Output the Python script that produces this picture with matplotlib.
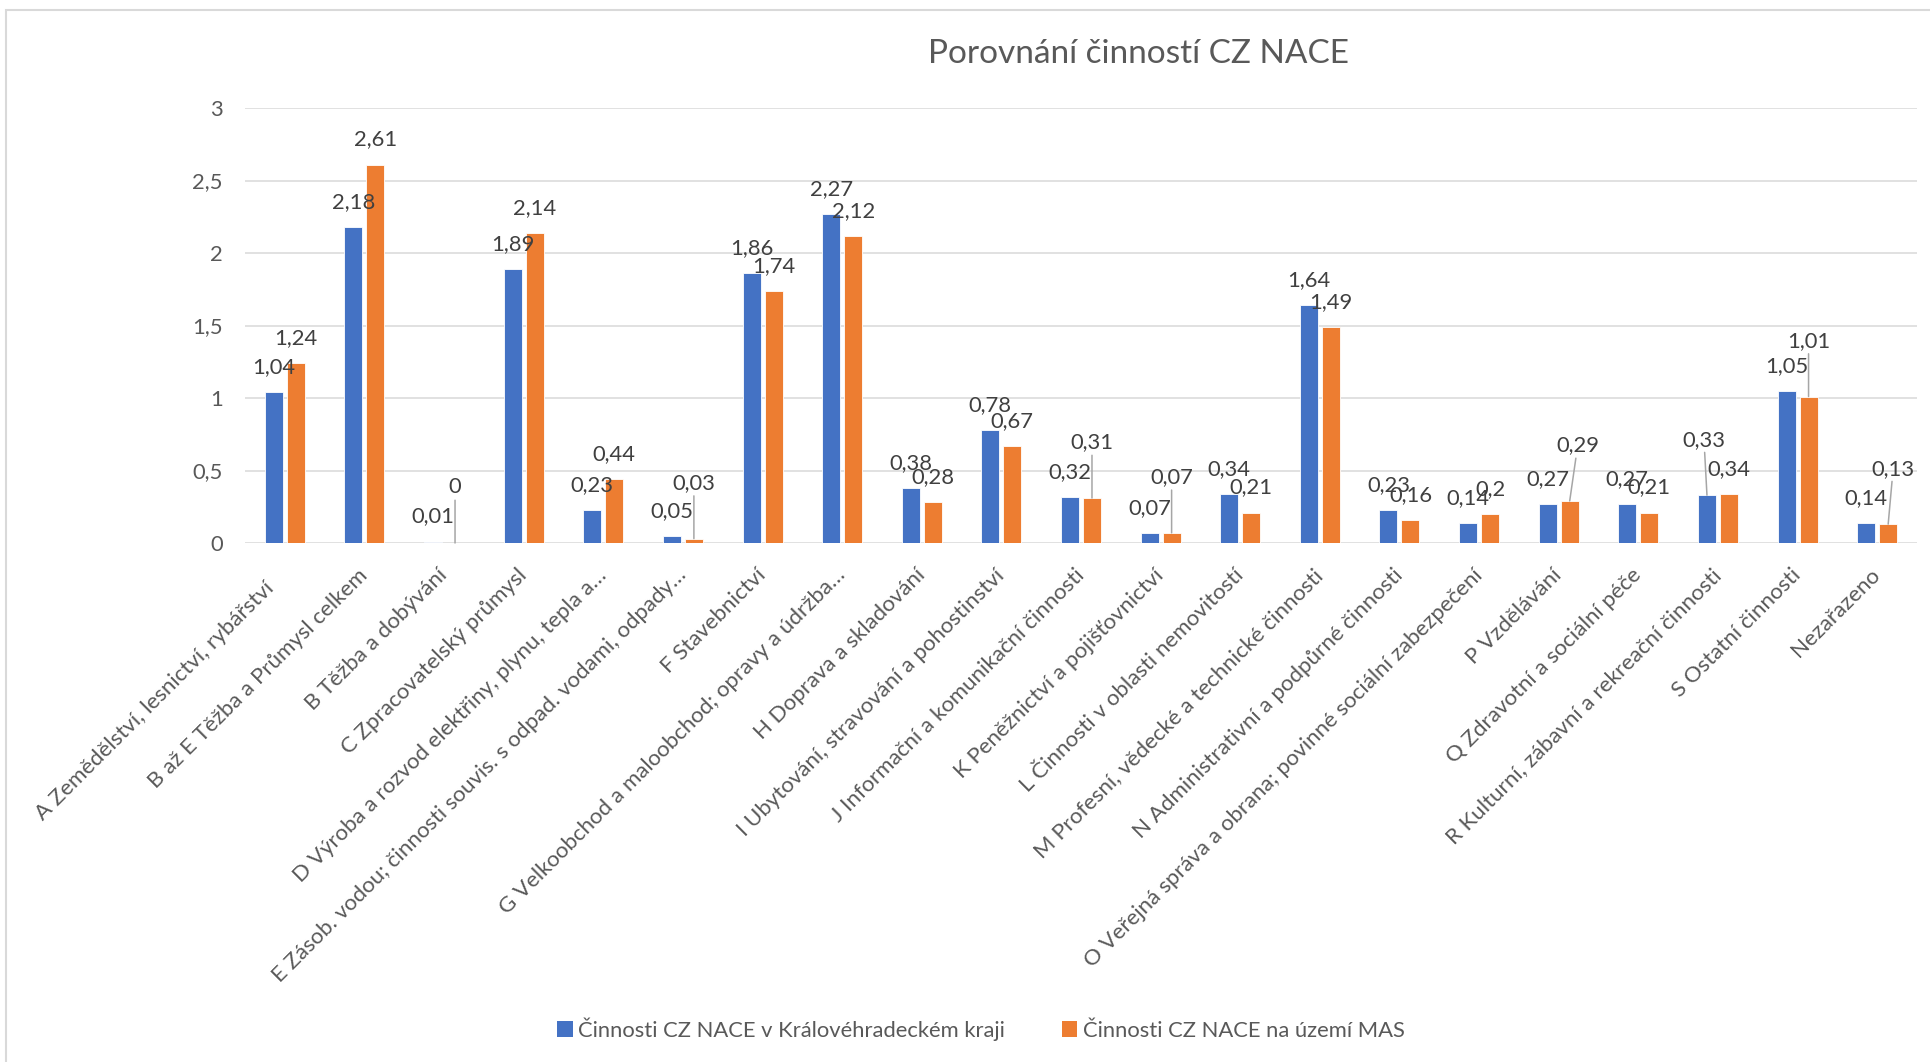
import matplotlib
matplotlib.use("Agg")
import matplotlib.pyplot as plt
from matplotlib.patches import Patch, Rectangle
from matplotlib.transforms import ScaledTranslation
import numpy as np

plt.rcParams['font.family'] = ['Lato', 'DejaVu Sans']

categories = [
    "A Zemědělství, lesnictví, rybářství",
    "B až E Těžba a Průmysl celkem",
    "B Těžba a dobývání",
    "C Zpracovatelský průmysl",
    "D Výroba a rozvod elektřiny, plynu, tepla a…",
    "E Zásob. vodou; činnosti souvis. s odpad. vodami, odpady…",
    "F Stavebnictví",
    "G Velkoobchod a maloobchod; opravy a údržba…",
    "H Doprava a skladování",
    "I Ubytování, stravování a pohostinství",
    "J Informační a komunikační činnosti",
    "K Peněžnictví a pojišťovnictví",
    "L Činnosti v oblasti nemovitostí",
    "M Profesní, vědecké a technické činnosti",
    "N Administrativní a podpůrné činnosti",
    "O Veřejná správa a obrana; povinné sociální zabezpečení",
    "P Vzdělávání",
    "Q Zdravotní a sociální péče",
    "R Kulturní, zábavní a rekreační činnosti",
    "S Ostatní činnosti",
    "Nezařazeno",
]
kraj = [1.04, 2.18, 0.01, 1.89, 0.23, 0.05, 1.86, 2.27, 0.38, 0.78, 0.32,
        0.07, 0.34, 1.64, 0.23, 0.14, 0.27, 0.27, 0.33, 1.05, 0.14]
mas = [1.24, 2.61, 0, 2.14, 0.44, 0.03, 1.74, 2.12, 0.28, 0.67, 0.31,
       0.07, 0.21, 1.49, 0.16, 0.2, 0.29, 0.21, 0.34, 1.01, 0.13]
series_names = ["Činnosti CZ NACE v Královéhradeckém kraji",
                "Činnosti CZ NACE na území MAS"]

# labels moved up with a leader line (index: x shift in px)
kraj_raised = {18: -3}
mas_raised = {2: 0, 5: 0, 10: 0, 11: 0, 16: 8, 19: 0, 20: 5}

BLUE = "#4472C4"
ORANGE = "#ED7D31"
GRID = "#D9D9D9"
TXT = "#595959"
LBL = "#404040"
FS = 15.8

W, H = 1930, 1062
fig = plt.figure(figsize=(W / 100, H / 100), dpi=100)
fig.patches.append(Rectangle((6 / W, -0.1), 1.2, 1 - 10 / H + 0.1,
                             transform=fig.transFigure, fill=False,
                             edgecolor=GRID, lw=1.5))

ax = fig.add_axes([245 / W, 1 - 543 / H, (1917 - 245) / W, (543 - 108) / H])
x = np.arange(len(categories))
bw = 0.226
off = 0.138
ax.bar(x - off, kraj, bw, color=BLUE, edgecolor="white", lw=0.6, zorder=3)
ax.bar(x + off, mas, bw, color=ORANGE, edgecolor="white", lw=0.6, zorder=3)

ax.set_xlim(-0.5, len(categories) - 0.5)
ax.set_ylim(0, 3)
yt = np.arange(0, 3.01, 0.5)
ax.set_yticks(yt)
ax.set_yticklabels([f"{v:g}".replace(".", ",") for v in yt])
ax.grid(axis="y", color=GRID, lw=1.1, zorder=0)
for s in ax.spines.values():
    s.set_visible(False)
ax.tick_params(axis="y", length=0, pad=16, labelsize=FS, labelcolor=TXT)
ax.tick_params(axis="x", length=0, pad=21, labelsize=16, labelcolor=TXT)
ax.set_xticks(x)
ax.set_xticklabels(categories, rotation=45, ha="right", va="center",
                   rotation_mode="anchor")
for k, t in enumerate(ax.get_xticklabels()):
    dx, dy = (0, 0) if k > 0 else (-14, -13)
    t.set_transform(t.get_transform() +
                    ScaledTranslation(dx / 100, dy / 100, fig.dpi_scale_trans))


def put_labels(xs, vals, raised):
    for i, (xi, v) in enumerate(zip(xs, vals)):
        s = f"{v:g}".replace(".", ",")
        if i in raised:
            ax.annotate(s, (xi, v), xytext=(raised[i] * 0.72, 40),
                        textcoords="offset points", ha="center", va="center",
                        fontsize=FS, color=LBL, zorder=5,
                        arrowprops=dict(arrowstyle="-", color="#A6A6A6",
                                        lw=1.1, shrinkA=0, shrinkB=0))
        else:
            ax.annotate(s, (xi, v), xytext=(0, 18),
                        textcoords="offset points", ha="center", va="center",
                        fontsize=FS, color=LBL, zorder=5)


put_labels(x - off, kraj, kraj_raised)
put_labels(x + off, mas, mas_raised)

fig.text(1138 / W, 1 - 54 / H, "Porovnání činností CZ NACE", ha="center",
         va="center", fontsize=24, color=TXT)

handles = [Patch(facecolor=BLUE), Patch(facecolor=ORANGE)]
fig.legend(handles, series_names, loc="center", ncol=2,
           bbox_to_anchor=(981 / W, 1 - 1029 / H), frameon=False,
           fontsize=FS, labelcolor=TXT, handlelength=0.7, handleheight=0.7,
           handletextpad=0.25, columnspacing=2.6)

fig.savefig("out.png", dpi=100)
